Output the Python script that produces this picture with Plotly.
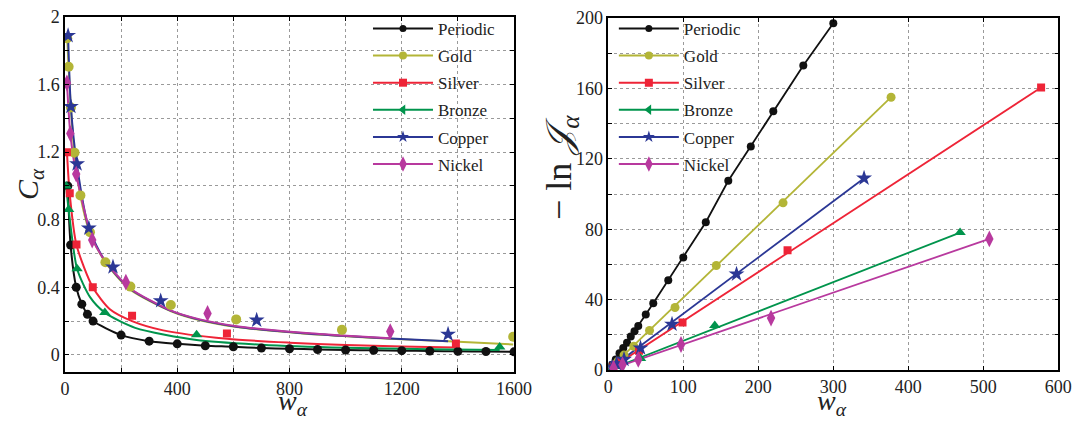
import plotly.graph_objects as go

# ---------------- data: left panel (C_alpha vs w_alpha) ----------------
periodic_w = [10, 20, 40, 60, 80, 100, 200, 300, 400, 500, 600, 700, 800, 900,
              1000, 1100, 1200, 1300, 1400, 1500, 1600]
periodic_C = [1.0, 0.65, 0.40, 0.30, 0.24, 0.20, 0.117, 0.081, 0.065, 0.054, 0.048,
              0.040, 0.036, 0.032, 0.029, 0.027, 0.025, 0.023, 0.021, 0.020, 0.018]

gold_w = [8, 13, 21, 34, 55, 89, 144, 233, 377, 610, 987, 1597]
gold_C = [1.874, 1.705, 1.464, 1.197, 0.944, 0.726, 0.548, 0.404, 0.295, 0.21, 0.148, 0.107]

silver_w = [7, 17, 41, 99, 239, 577, 1393]
silver_C = [1.2, 0.957, 0.653, 0.40, 0.231, 0.127, 0.067]

bronze_w = [4, 13, 43, 142, 469, 1549]
bronze_C = [1.0, 0.86, 0.51, 0.25, 0.119, 0.047]

copper_w = [11, 21, 43, 85, 171, 341, 683, 1365]
copper_C = [1.89, 1.47, 1.13, 0.75, 0.52, 0.32, 0.205, 0.122]

nickel_w = [7, 19, 40, 97, 217, 508, 1159]
nickel_C = [1.61, 1.31, 1.07, 0.68, 0.43, 0.245, 0.138]

# fitted curves
gold_fit_w = [8, 13, 21, 34, 55, 89, 145, 233, 378, 481, 612, 838, 988, 1159, 1365, 1597]
gold_fit_C = [1.87, 1.70, 1.46, 1.19, 0.94, 0.72, 0.545, 0.385, 0.258, 0.205, 0.165,
              0.128, 0.112, 0.095, 0.080, 0.062]
copper_fit_w = [11, 21, 43, 85, 145, 233, 378, 481, 612, 838, 988, 1159, 1365]
copper_fit_C = [1.89, 1.47, 1.12, 0.75, 0.55, 0.39, 0.26, 0.207, 0.167, 0.13, 0.113,
                0.097, 0.081]
nickel_fit_w = [7, 19, 40, 97, 145, 233, 378, 481, 612, 838, 988, 1159]
nickel_fit_C = [1.61, 1.31, 1.07, 0.69, 0.552, 0.393, 0.262, 0.21, 0.17, 0.132, 0.115, 0.098]
silver_fit_w = [7, 17, 41, 99, 160, 239, 350, 577, 800, 1000, 1200, 1393]
silver_fit_C = [1.2, 0.95, 0.65, 0.40, 0.27, 0.20, 0.145, 0.095, 0.072, 0.058, 0.049, 0.043]
bronze_fit_w = [4, 13, 43, 90, 142, 250, 469, 700, 1000, 1300, 1549]
bronze_fit_C = [1.0, 0.86, 0.51, 0.34, 0.25, 0.16, 0.088, 0.06, 0.042, 0.033, 0.028]

# ---------------- data: right panel (-ln J vs w) ----------------
periodic_rw = [5, 10, 15, 20, 25, 30, 35, 40, 50, 60, 80, 100, 130, 160, 190, 220, 260, 300]
periodic_rv = [3, 6, 9.5, 12.5, 15.5, 19, 22, 25, 31.5, 38, 51, 64, 84, 107.5, 127, 147, 173, 197]
gold_rw = [8, 13, 21, 34, 55, 89, 144, 233, 377]
gold_rv = [3, 5, 8.5, 13.5, 22.5, 35.5, 59.4, 95, 155]
silver_rw = [7, 17, 41, 99, 239, 577]
silver_rv = [2, 5, 11, 27, 68, 160.5]
bronze_rw = [4, 13, 43, 142, 469]
bronze_rv = [0.5, 2, 6.5, 25.3, 78.1]
copper_rw = [5, 11, 21, 43, 85, 171, 341]
copper_rv = [1.5, 3.5, 6, 12.5, 26, 54.5, 109]
nickel_rw = [7, 19, 40, 97, 217, 508]
nickel_rv = [1, 3, 6, 14.5, 29.5, 74.5]

# linear fits (start, end)
periodic_lin_w, periodic_lin_v = [0] + periodic_rw, [0] + periodic_rv
gold_lin_w, gold_lin_v = [0, 377], [0, 155]
silver_lin_w, silver_lin_v = [0, 577], [0, 160.5]
bronze_lin_w, bronze_lin_v = [0, 469], [0, 78.1]
copper_lin_w, copper_lin_v = [0, 341], [0, 109]
nickel_lin_w, nickel_lin_v = [0, 508], [0, 74.5]

names = ["Periodic", "Gold", "Silver", "Bronze", "Copper", "Nickel"]
colors = ["#111111", "#b3b537", "#ee2437", "#00944c", "#2b3795", "#b8399e"]
symbols = ["circle", "circle", "square", "triangle-up", "star", "diamond-tall"]
msize = [9, 10, 8, 10, 12, 12]
legend_symbols = ["circle", "circle", "square", "triangle-left", "star", "diamond-tall"]
legend_msize = [7, 8, 8, 9, 9, 11]

FONT = "Liberation Serif"
fig = go.Figure()

left_pts = [(periodic_w, periodic_C), (gold_w, gold_C), (silver_w, silver_C),
            (bronze_w, bronze_C), (copper_w, copper_C), (nickel_w, nickel_C)]
left_fit = [(periodic_w, periodic_C), (gold_fit_w, gold_fit_C), (silver_fit_w, silver_fit_C),
            (bronze_fit_w, bronze_fit_C), (copper_fit_w, copper_fit_C),
            (nickel_fit_w, nickel_fit_C)]
right_pts = [(periodic_rw, periodic_rv), (gold_rw, gold_rv), (silver_rw, silver_rv),
             (bronze_rw, bronze_rv), (copper_rw, copper_rv), (nickel_rw, nickel_rv)]
right_fit = [(periodic_lin_w, periodic_lin_v), (gold_lin_w, gold_lin_v),
             (silver_lin_w, silver_lin_v), (bronze_lin_w, bronze_lin_v),
             (copper_lin_w, copper_lin_v), (nickel_lin_w, nickel_lin_v)]

for i in range(6):
    fw, fc = left_fit[i]
    fig.add_trace(go.Scatter(x=fw, y=fc, mode="lines", xaxis="x", yaxis="y",
                             line=dict(color=colors[i], width=2, shape="spline", smoothing=0.7),
                             showlegend=False, hoverinfo="skip"))
for i in range(6):
    pw, pc = left_pts[i]
    fig.add_trace(go.Scatter(x=pw, y=pc, mode="markers", xaxis="x", yaxis="y",
                             marker=dict(color=colors[i], symbol=symbols[i], size=msize[i],
                                         line=dict(width=0)),
                             showlegend=False))
for i in range(6):
    fw, fv = right_fit[i]
    fig.add_trace(go.Scatter(x=fw, y=fv, mode="lines", xaxis="x2", yaxis="y2",
                             line=dict(color=colors[i], width=1.8),
                             showlegend=False, hoverinfo="skip"))
for i in range(6):
    pw, pv = right_pts[i]
    fig.add_trace(go.Scatter(x=pw, y=pv, mode="markers", xaxis="x2", yaxis="y2",
                             marker=dict(color=colors[i], symbol=symbols[i],
                                         size=msize[i] - (1 if i < 2 else 0),
                                         line=dict(width=0)),
                             showlegend=False))

# legend-only entries
for leg, xa, ya in (("legend", "x", "y"), ("legend2", "x2", "y2")):
    for i in range(6):
        fig.add_trace(go.Scatter(x=[None], y=[None], mode="lines+markers", xaxis=xa, yaxis=ya,
                                 name=names[i], legend=leg, legendgroup=leg + names[i],
                                 line=dict(color=colors[i], width=2),
                                 marker=dict(color=colors[i], symbol=legend_symbols[i],
                                             size=legend_msize[i], line=dict(width=0))))


def axis_common(minor_dtick):
    return dict(showline=True, linecolor="black", linewidth=1.5, mirror="ticks",
                ticks="inside", ticklen=4, tickcolor="black", tickwidth=1,
                showgrid=True, gridcolor="#9a9a9a", griddash="dot", gridwidth=1,
                zeroline=False, automargin=False,
                tickfont=dict(family=FONT, size=18, color="#222"),
                minor=dict(dtick=minor_dtick, showgrid=True, gridcolor="#9a9a9a",
                           griddash="dot", gridwidth=1, ticks="inside", ticklen=4,
                           tickcolor="black"))


leg_common = dict(font=dict(family=FONT, size=17, color="#222"), bgcolor="rgba(0,0,0,0)",
                  borderwidth=0, tracegroupgap=2, itemwidth=60, itemclick=False)

fig.update_layout(
    width=1076, height=421, margin=dict(l=0, r=0, t=0, b=0),
    paper_bgcolor="white", plot_bgcolor="white",
    xaxis=dict(domain=[0.0604, 0.4777], range=[0, 1600], tick0=0, dtick=400,
               **axis_common(200)),
    yaxis=dict(domain=[0.117, 0.9596], range=[-0.1, 2.0], tick0=0, dtick=0.4,
               **axis_common(0.2)),
    xaxis2=dict(domain=[0.5653, 0.9836], range=[0, 600], tick0=0, dtick=100,
                anchor="y2", **axis_common(100)),
    yaxis2=dict(domain=[0.1211, 0.9572], range=[0, 200], tick0=0, dtick=40, anchor="x2",
                **axis_common(20)),
    legend=dict(x=0.342, y=0.974, xanchor="left", yanchor="top", **leg_common),
    legend2=dict(x=0.5705, y=0.974, xanchor="left", yanchor="top", **leg_common),
    showlegend=True,
)

# axis titles as annotations (positioned like the reference)
title_font = dict(family=FONT, size=30, color="#222")
wfont = dict(family=FONT, size=28, color="#222")
fig.add_annotation(text="<i>C</i><sub><i>α</i></sub>", xref="paper", yref="paper",
                   x=30 / 1076, y=1 - 184 / 421, textangle=-90, showarrow=False,
                   xanchor="center", yanchor="middle", font=title_font)
fig.add_annotation(text="<i>w</i><sub><i>α</i></sub>", xref="paper", yref="paper",
                   x=293 / 1076, y=0.0, showarrow=False, borderpad=0,
                   xanchor="center", yanchor="bottom", font=wfont)
fig.add_annotation(text="<i>w</i><sub><i>α</i></sub>", xref="paper", yref="paper",
                   x=832 / 1076, y=0.0, showarrow=False, borderpad=0,
                   xanchor="center", yanchor="bottom", font=wfont)
fig.add_annotation(text="− ln <i>𝒥</i><sub><i>α</i></sub>", xref="paper", yref="paper",
                   x=561 / 1076, y=1 - 168 / 421, textangle=-90, showarrow=False,
                   xanchor="center", yanchor="middle", font=dict(family=FONT, size=36, color="#222"))

fig.write_html("out.html")
